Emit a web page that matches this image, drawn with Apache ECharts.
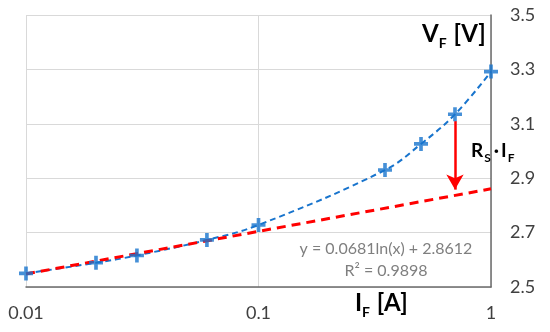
<!DOCTYPE html>
<html><head><meta charset="utf-8">
<script src="https://cdn.jsdelivr.net/npm/echarts@6/dist/echarts.min.js"></script>
<style>html,body{margin:0;padding:0;background:#fff}#c{width:550px;height:332px}</style>
</head><body><div id="c"></div>
<script>
// measured points (forward current in A, forward voltage in V)
const currentA = [0.01, 0.02, 0.03, 0.06, 0.1, 0.35, 0.5, 0.7, 1.0];
const voltageV = [2.550, 2.589, 2.616, 2.673, 2.728, 2.930, 3.026, 3.135, 3.292];
// logarithmic trendline endpoints
const trendX = [0.01, 1];
const trendY = [2.548, 2.861];
// RS·IF arrow (x, y start, y end)
const arrowX = 0.7;
const arrowY = [3.110, 2.858];
const xTickLabels = {'-2': '0.01', '-1': '0.1', '0': '1'};
const yMin = 2.5, yMax = 3.5, yStep = 0.2;
const eqText = ['y = 0.0681ln(x) + 2.8612', 'R² = 0.9898'];

const FONT = 'Lato';
const pts = currentA.map((x, i) => [x, voltageV[i]]);
const trend = trendX.map((x, i) => [x, trendY[i]]);
const plus = 'path://M3.7,0H6.3V3.7H10V6.3H6.3V10H3.7V6.3H0V3.7H3.7Z';

const chart = echarts.init(document.getElementById('c'), null, {renderer: 'canvas'});
chart.setOption({
  animation: false,
  backgroundColor: '#fff',
  grid: {left: 26, right: 59, top: 15, bottom: 45, containLabel: false},
  xAxis: {
    type: 'log', logBase: 10, min: 0.01, max: 1,
    axisLine: {show: true, onZero: false, lineStyle: {color: '#6b6b6b', width: 1.5}},
    axisTick: {show: false},
    minorTick: {show: false},
    splitLine: {show: true, lineStyle: {color: '#d9d9d9', width: 1}},
    axisLabel: {
      margin: 17, fontFamily: FONT, fontSize: 18, color: '#404040',
      formatter: v => xTickLabels[String(Math.round(Math.log10(v)))] || ''
    }
  },
  yAxis: {
    type: 'value', position: 'right', min: yMin, max: yMax, interval: yStep,
    axisLine: {show: true, lineStyle: {color: '#6b6b6b', width: 1.5}},
    axisTick: {show: false},
    splitLine: {show: true, lineStyle: {color: '#d9d9d9', width: 1}},
    axisLabel: {
      margin: 19, fontFamily: FONT, fontSize: 18, color: '#404040',
      formatter: v => v.toFixed(1)
    }
  },
  series: [
    {
      type: 'line', data: pts, smooth: 0.4, showSymbol: false, z: 2,
      lineStyle: {color: '#1874CD', width: 2, type: [6, 4]}
    },
    {
      type: 'line', data: trend, showSymbol: false, z: 3,
      lineStyle: {color: '#FF0000', width: 3, type: [9, 6]},
      markLine: {
        silent: true, symbol: ['none', 'arrow'], symbolSize: [13, 15],
        label: {show: false},
        lineStyle: {color: '#FF0000', width: 2.5, type: 'solid'},
        data: [[{coord: [arrowX, arrowY[0]]}, {coord: [arrowX, arrowY[1]]}]]
      }
    },
    {
      type: 'scatter', data: pts, symbol: plus, symbolSize: 14, z: 5,
      itemStyle: {color: '#1874CD'}
    }
  ],
  graphic: [
    {type: 'text', left: 422, top: 22, z: 10, style: {
      text: '{a|V}{s|F}{a| [V]}', fontFamily: FONT,
      rich: {
        a: {fontFamily: FONT, fontSize: 24, fontWeight: 'bold', color: '#262626', lineHeight: 26, verticalAlign: 'top'},
        s: {fontFamily: FONT, fontSize: 14, fontWeight: 'bold', color: '#262626', lineHeight: 14, verticalAlign: 'top', padding: [14, 1, 0, 0]}
      }}},
    {type: 'text', left: 355, top: 291, z: 10, style: {
      text: '{a|I}{s|F}{a| [A]}', fontFamily: FONT,
      rich: {
        a: {fontFamily: FONT, fontSize: 24, fontWeight: 'bold', color: '#262626', lineHeight: 26, verticalAlign: 'top'},
        s: {fontFamily: FONT, fontSize: 14, fontWeight: 'bold', color: '#262626', lineHeight: 14, verticalAlign: 'top', padding: [14, 1, 0, 0]}
      }}},
    {type: 'text', left: 471, top: 141, z: 10, style: {
      text: '{a|R}{s|S}{d|·}{a|I}{s|F}', fontFamily: FONT,
      rich: {
        a: {fontFamily: FONT, fontSize: 19, fontWeight: 'bold', color: '#FF0000', lineHeight: 20, verticalAlign: 'top'},
        d: {fontFamily: FONT, fontSize: 19, fontWeight: 'bold', color: '#FF0000', lineHeight: 20, verticalAlign: 'top', padding: [0, 2, 0, 2]},
        s: {fontFamily: FONT, fontSize: 12, fontWeight: 'bold', color: '#FF0000', lineHeight: 12, verticalAlign: 'top', padding: [11, 1, 0, 1]}
      }}},
    {type: 'text', x: 386, y: 260, z: 10, style: {
      text: eqText.join('\n'), fontFamily: FONT, fontSize: 16, lineHeight: 22,
      fill: '#7f7f7f', align: 'center', verticalAlign: 'middle'
    }}
  ]
});
</script>
</body></html>
